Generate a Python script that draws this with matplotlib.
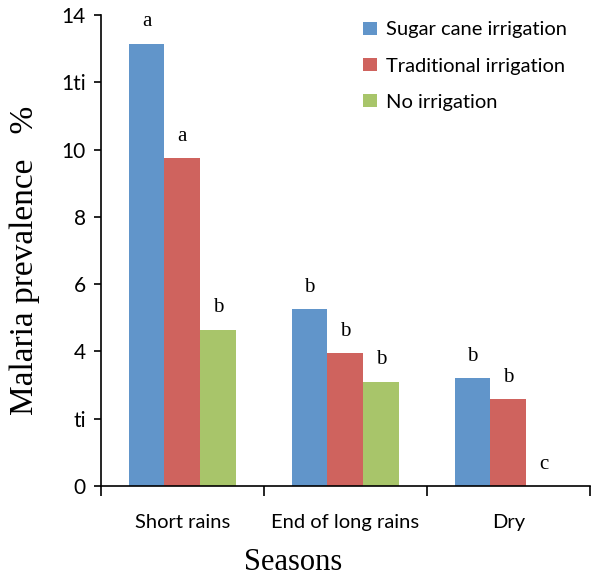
import matplotlib
matplotlib.use("Agg")
import matplotlib.pyplot as plt
import numpy as np

seasons = ["Short rains", "End of long rains", "Dry"]
series_names = ["Sugar cane irrigation", "Traditional irrigation", "No irrigation"]
sugar = [13.15, 5.25, 3.2]
traditional = [9.75, 3.95, 2.58]
no_irr = [4.65, 3.1, 0.0]
letters_sugar = ["a", "b", "b"]
letters_trad = ["a", "b", "b"]
letters_no = ["b", "b", "c"]
yticks = [0, 2, 4, 6, 8, 10, 12, 14]
ytick_labels = ["0", "ti", "4", "6", "8", "10", "1ti", "14"]

colors = ["#6195CA", "#CF635E", "#A8C56A"]
sans = ["Lato", "DejaVu Sans"]
serif = ["Liberation Serif", "DejaVu Serif"]

fig = plt.figure(figsize=(6.0, 5.79), dpi=100)
ax = fig.add_axes([0.168, 0.1606, 0.815, 0.8134])

x = np.arange(len(seasons))
w = 0.22
data = [sugar, traditional, no_irr]
letters = [letters_sugar, letters_trad, letters_no]
for i, (vals, lets) in enumerate(zip(data, letters)):
    pos = x + (i - 1) * w
    ax.bar(pos, vals, width=w, color=colors[i], label=series_names[i], linewidth=0)
    for px_, v, l in zip(pos, vals, lets):
        ax.annotate(l, (px_, v), xytext=(0, 9), textcoords="offset points",
                    ha="center", va="bottom", fontsize=15, family=serif)

ax.set_xlim(-0.5, 2.5)
ax.set_ylim(0, 14)
ax.set_yticks(yticks)
ax.set_yticklabels(ytick_labels, family=sans, fontsize=15)
ax.set_xticks(x)
ax.set_xticklabels(seasons, family=sans, fontsize=14.5)
ax.set_xticks([-0.5, 0.5, 1.5, 2.5], minor=True)
ax.tick_params(axis="x", which="major", length=0, pad=20)
ax.tick_params(axis="x", which="minor", length=7, width=1.2, direction="out")
ax.tick_params(axis="y", length=5, width=1.2, direction="out", pad=6)
for s in ["top", "right"]:
    ax.spines[s].set_visible(False)
for s in ["left", "bottom"]:
    ax.spines[s].set_linewidth(1.2)

leg = ax.legend(loc="upper left", bbox_to_anchor=(0.5, 1.025), frameon=False,
                prop={"family": sans, "size": 14.5}, handlelength=0.65,
                handleheight=0.65, handletextpad=0.45, labelspacing=0.95)

fig.text(0.488, 0.003, "Seasons", family=serif, fontsize=22, ha="center", va="bottom")
fig.text(0.042, 0.551, "Malaria prevalence   %", family=serif, fontsize=24,
         rotation=90, ha="center", va="center")

fig.savefig("out.png", dpi=100)
